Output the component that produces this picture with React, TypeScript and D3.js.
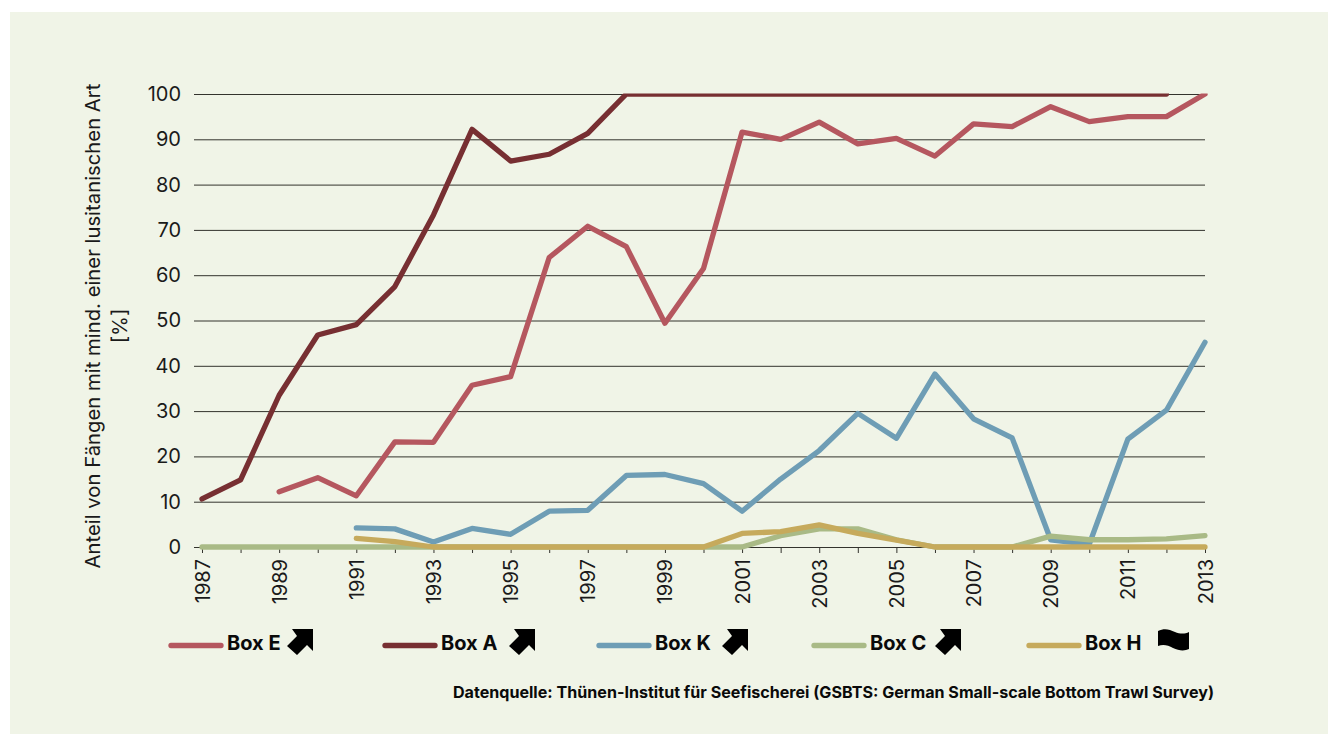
import React, { useEffect, useRef } from 'react';
import * as d3 from 'd3';

const years = d3.range(1987, 2014);
const yTicks = [0, 10, 20, 30, 40, 50, 60, 70, 80, 90, 100];

const boxE = [null, null, 12.2, 15.3, 11.3, 23.2, 23.1, 35.7, 37.6, 63.9, 70.8, 66.3, 49.4, 61.5, 91.6, 90, 93.8, 89, 90.2, 86.3, 93.4, 92.8, 97.2, 93.9, 95, 95, 100];
const boxA = [10.6, 14.8, 33.5, 46.8, 49.1, 57.5, 73.3, 92.2, 85.2, 86.7, 91.3, 100, 100, 100, 100, 100, 100, 100, 100, 100, 100, 100, 100, 100, 100, 100, null];
const boxK = [null, null, null, null, 4.2, 4, 1.1, 4.1, 2.8, 7.9, 8.1, 15.8, 16, 14, 7.9, 15, 21.3, 29.5, 24, 38.2, 28.3, 24.1, 1.6, 0.6, 23.8, 30.2, 45.2];
const boxC = [0, 0, 0, 0, 0, 0, 0, 0, 0, 0, 0, 0, 0, 0, 0, 2.5, 4, 4, 1.6, 0, 0, 0, 2.4, 1.6, 1.6, 1.8, 2.5];
const boxH = [null, null, null, null, 1.9, 1.2, 0, 0, 0, 0, 0, 0, 0, 0, 3, 3.4, 4.9, 3, 1.5, 0, 0, 0, 0, 0, 0, 0, 0];

const series = [
  { name: 'Box E', values: boxE, color: '#b5575f', legendX: 169, textX: 227, icon: 'arrow', iconX: 287 },
  { name: 'Box A', values: boxA, color: '#772f32', legendX: 383, textX: 441, icon: 'arrow', iconX: 509 },
  { name: 'Box K', values: boxK, color: '#6e9db5', legendX: 597, textX: 655, icon: 'arrow', iconX: 722 },
  { name: 'Box C', values: boxC, color: '#a9ba86', legendX: 812, textX: 870, icon: 'arrow', iconX: 935 },
  { name: 'Box H', values: boxH, color: '#c6aa5c', legendX: 1027, textX: 1085, icon: 'wave', iconX: 1158 },
];
const drawOrder = [1, 0, 2, 3, 4];

const font = 'Inter, sans-serif';
const arrowPath = 'M26 0 V22 L20 16 L10 26 L0 17 L10 7 L5 0 Z';
const wavePath = 'M0 2 C6 -1 11 0 17 3 C22 5 27 5 31 3 V20 C27 22 21 22 15 19 C10 16 5 15 0 17 Z';

export default function App() {
  const ref = useRef<SVGSVGElement>(null);

  useEffect(() => {
    const svg = d3.select(ref.current);
    svg.selectAll('*').remove();

    const x = d3.scalePoint<number>().domain(years).range([202, 1205]);
    const y = d3.scaleLinear().domain([0, 100]).range([547, 94]);

    svg.append('rect').attr('x', 10).attr('y', 12).attr('width', 1318).attr('height', 722).attr('fill', '#f0f4e7');

    // linien oben am Plotrand abgeschnitten
    svg.append('clipPath').attr('id', 'plot-clip')
      .append('rect')
      .attr('x', 190).attr('y', y(100) - 0.5)
      .attr('width', 1030).attr('height', 480);

    // gitter + y achse
    const yAxis = svg.append('g')
      .attr('transform', 'translate(194,0)')
      .call(d3.axisLeft(y).tickValues(yTicks).tickSize(0).tickPadding(13));
    yAxis.select('.domain').remove();
    yAxis.selectAll('text').attr('font-size', 20).attr('font-family', font).attr('fill', '#1a1a1a');
    yAxis.selectAll('.tick').append('line')
      .attr('x2', 1011)
      .attr('stroke', '#33332d')
      .attr('stroke-width', 1);

    // x achse, jedes zweite Jahr beschriftet
    const xAxis = svg.append('g')
      .attr('transform', 'translate(0,547)')
      .call(d3.axisBottom(x).tickSize(6).tickFormat((d) => ((d as number) % 2 === 1 ? String(d) : '')));
    xAxis.select('.domain').remove();
    xAxis.selectAll('line').attr('stroke', '#33332d');
    xAxis.selectAll('text')
      .attr('font-size', 20)
      .attr('font-family', font)
      .attr('fill', '#1a1a1a')
      .attr('text-anchor', 'end')
      .attr('transform', 'rotate(-90)')
      .attr('x', -12)
      .attr('y', 0)
      .attr('dy', '0.35em');

    const line = d3.line<number | null>()
      .defined((d) => d !== null)
      .x((_, i) => x(years[i]) as number)
      .y((d) => y(d as number));

    const lines = svg.append('g').attr('clip-path', 'url(#plot-clip)');
    drawOrder.forEach((k) => {
      lines.append('path')
        .attr('d', line(series[k].values))
        .attr('fill', 'none')
        .attr('stroke', series[k].color)
        .attr('stroke-width', 5.3)
        .attr('stroke-linejoin', 'round')
        .attr('stroke-linecap', 'round');
    });

    // y titel
    const title = svg.append('text')
      .attr('transform', 'translate(100,326) rotate(-90)')
      .attr('text-anchor', 'middle')
      .attr('font-family', font)
      .attr('font-size', 20.3)
      .attr('fill', '#1a1a1a');
    title.append('tspan').attr('x', 0).attr('y', 0).text('Anteil von Fängen mit mind. einer lusitanischen Art');
    title.append('tspan').attr('x', 0).attr('y', 27).text('[%]');

    // legende
    series.forEach((s) => {
      svg.append('line')
        .attr('x1', s.legendX + 2).attr('x2', s.legendX + 52)
        .attr('y1', 645.5).attr('y2', 645.5)
        .attr('stroke', s.color)
        .attr('stroke-width', 5.3)
        .attr('stroke-linecap', 'round');
      svg.append('text')
        .attr('x', s.textX).attr('y', 650)
        .attr('font-family', font)
        .attr('font-size', 20)
        .attr('font-weight', 700)
        .attr('fill', '#0a0a0a')
        .text(s.name);
      svg.append('path')
        .attr('transform', `translate(${s.iconX},629)`)
        .attr('d', s.icon === 'arrow' ? arrowPath : wavePath)
        .attr('fill', '#000');
    });

    svg.append('text')
      .attr('x', 1214).attr('y', 698)
      .attr('text-anchor', 'end')
      .attr('font-family', font)
      .attr('font-size', 16.1)
      .attr('font-weight', 700)
      .attr('fill', '#0a0a0a')
      .text('Datenquelle: Thünen-Institut für Seefischerei (GSBTS: German Small-scale Bottom Trawl Survey)');
  }, []);

  return <svg ref={ref} width={1328} height={734} style={{ position: 'absolute', left: 0, top: 0, background: '#fff' }} />;
}
